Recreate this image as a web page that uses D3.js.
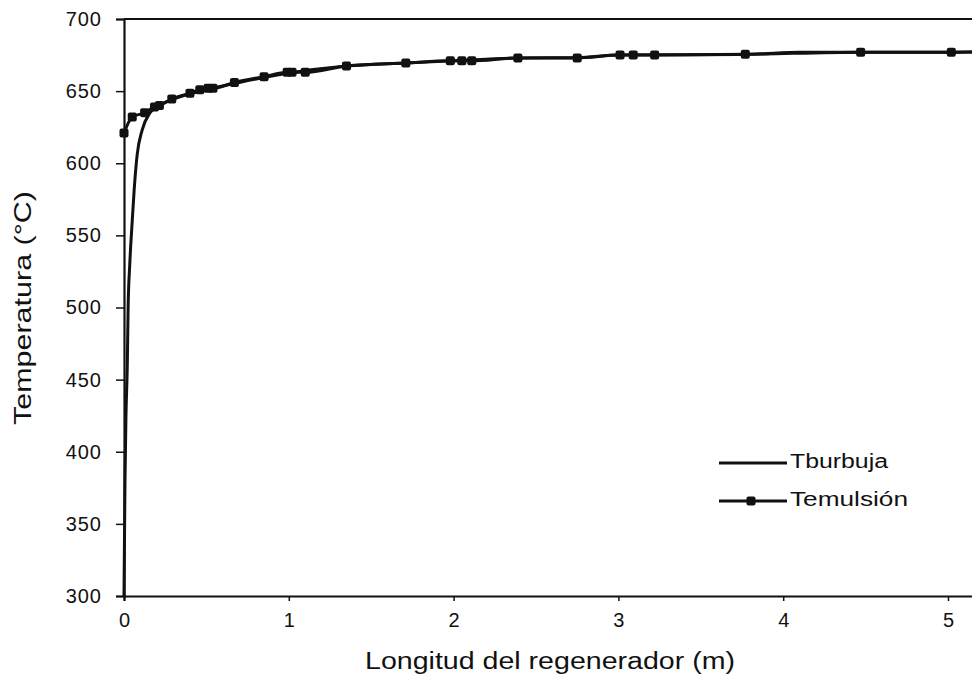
<!DOCTYPE html>
<html>
<head>
<meta charset="utf-8">
<script src="https://cdn.jsdelivr.net/npm/d3@7"></script>
<style>
  body { margin: 0; background: #fff; }
  text { font-family: "Liberation Sans", Arial, sans-serif; fill: #111; }
</style>
</head>
<body>
<div id="chart"></div>
<script>
// data
const burbujaX = [0, 0.006, 0.012, 0.02, 0.025, 0.035, 0.05, 0.062, 0.08, 0.11, 0.158, 0.22, 0.3, 0.5, 0.7, 1.0, 1.35, 1.7, 2.0, 2.4, 2.75, 3.0, 3.8, 4.1, 4.5, 5.0, 5.5];
const burbujaT = [300, 380, 425, 460, 500, 530, 560, 582, 606, 623, 635, 640.5, 644.5, 651, 656, 662.5, 667.4, 669.5, 671, 673, 673.2, 675, 675.5, 677, 677, 677, 677.5];
const emulsionX = [0, 0.05, 0.125, 0.185, 0.215, 0.29, 0.40, 0.46, 0.51, 0.54, 0.67, 0.85, 0.99, 1.02, 1.1, 1.35, 1.71, 1.98, 2.05, 2.11, 2.39, 2.75, 3.01, 3.09, 3.22, 3.77, 4.47, 5.02, 5.5];
const emulsionT = [621, 632, 635, 639, 640, 644.5, 648.6, 651, 652, 652, 656, 660, 663, 663, 663, 667.4, 669.5, 671, 671, 671, 673, 673, 675, 675, 675, 675.5, 677, 677, 677.5];
const xTicks = [0, 1, 2, 3, 4, 5];
const yTicks = [300, 350, 400, 450, 500, 550, 600, 650, 700];
const seriesNames = ['Tburbuja', 'Temulsión'];

// constants for svg
const W = 972, H = 680;
const margin = { top: 19, left: 124, bottom: 84 };
const height = H - margin.top - margin.bottom;

const svg = d3.select('#chart')
    .append('svg')
    .attr('width', W)
    .attr('height', H);

// x: one metre is ~164.8 px, right side of the chart is cut off
const x = d3.scaleLinear()
    .domain([0, 6])
    .range([margin.left, margin.left + 6 * 164.8]);

const y = d3.scaleLinear()
    .domain([300, 700])
    .range([margin.top + height, margin.top]);

svg.append('clipPath')
    .attr('id', 'plot')
    .append('rect')
    .attr('x', margin.left - 6)
    .attr('y', margin.top - 6)
    .attr('width', W - margin.left + 6)
    .attr('height', height + 12);

// top border
svg.append('line')
    .attr('x1', margin.left).attr('x2', W)
    .attr('y1', y(700)).attr('y2', y(700))
    .attr('stroke', '#111').attr('stroke-width', 2.2);

// y axis
const yAxis = svg.append('g')
    .attr('transform', 'translate(' + margin.left + ',0)')
    .call(d3.axisLeft(y).tickValues(yTicks).tickSize(8).tickPadding(14));
yAxis.select('.domain').attr('stroke', '#111').attr('stroke-width', 2.2);
yAxis.selectAll('.tick line').attr('stroke', '#111').attr('stroke-width', 1.5);
yAxis.selectAll('.tick text')
    .style('font-size', '20px')
    .style('letter-spacing', '1px');

// x axis
const xAxis = svg.append('g')
    .attr('transform', 'translate(0,' + y(300) + ')')
    .call(d3.axisBottom(x).tickValues(xTicks).tickSize(5).tickPadding(12).tickFormat(d3.format('d')));
xAxis.select('.domain').attr('stroke', '#111').attr('stroke-width', 2.2);
xAxis.selectAll('.tick line').attr('stroke', '#111').attr('stroke-width', 1.5);
xAxis.selectAll('.tick text').style('font-size', '20px');

// axis titles
svg.append('text')
    .attr('transform', 'translate(25,' + 308 + ') rotate(-90)')
    .attr('text-anchor', 'middle')
    .attr('dominant-baseline', 'middle')
    .attr('textLength', 234)
    .attr('lengthAdjust', 'spacingAndGlyphs')
    .style('font-size', '24px')
    .text('Temperatura (°C)');

svg.append('text')
    .attr('x', 550)
    .attr('y', 669)
    .attr('text-anchor', 'middle')
    .attr('textLength', 370)
    .attr('lengthAdjust', 'spacingAndGlyphs')
    .style('font-size', '23px')
    .text('Longitud del regenerador (m)');

// lines
const line = d3.line()
    .x(d => x(d[0]))
    .y(d => y(d[1]))
    .curve(d3.curveMonotoneX);

const burbuja = burbujaX.map((v, i) => [v, burbujaT[i]]);
const emulsion = emulsionX.map((v, i) => [v, emulsionT[i]]);

const plot = svg.append('g').attr('clip-path', 'url(#plot)');

plot.append('path')
    .datum(burbuja)
    .attr('d', line)
    .attr('fill', 'none')
    .attr('stroke', '#111')
    .attr('stroke-width', 3);

plot.append('path')
    .datum(emulsion)
    .attr('d', line)
    .attr('fill', 'none')
    .attr('stroke', '#111')
    .attr('stroke-width', 3);

plot.selectAll('rect.mk')
    .data(emulsion)
    .join('rect')
    .attr('class', 'mk')
    .attr('x', d => x(d[0]) - 4.5)
    .attr('y', d => y(d[1]) - 4.5)
    .attr('width', 9)
    .attr('height', 9)
    .attr('rx', 2)
    .attr('fill', '#111');

// legend
const legend = svg.append('g').attr('transform', 'translate(719,463)');
legend.selectAll('line')
    .data(seriesNames)
    .join('line')
    .attr('x1', 0).attr('x2', 68)
    .attr('y1', (d, i) => i * 38).attr('y2', (d, i) => i * 38)
    .attr('stroke', '#111')
    .attr('stroke-width', 3);
legend.append('rect')
    .attr('x', 32 - 4.5).attr('y', 38 - 4.5)
    .attr('width', 9).attr('height', 9)
    .attr('rx', 2)
    .attr('fill', '#111');
legend.selectAll('text')
    .data(seriesNames)
    .join('text')
    .attr('x', 71)
    .attr('y', (d, i) => i * 38)
    .attr('dominant-baseline', 'middle')
    .attr('textLength', (d, i) => i === 0 ? 98 : 118)
    .attr('lengthAdjust', 'spacingAndGlyphs')
    .style('font-size', '20px')
    .text(d => d);
</script>
</body>
</html>
